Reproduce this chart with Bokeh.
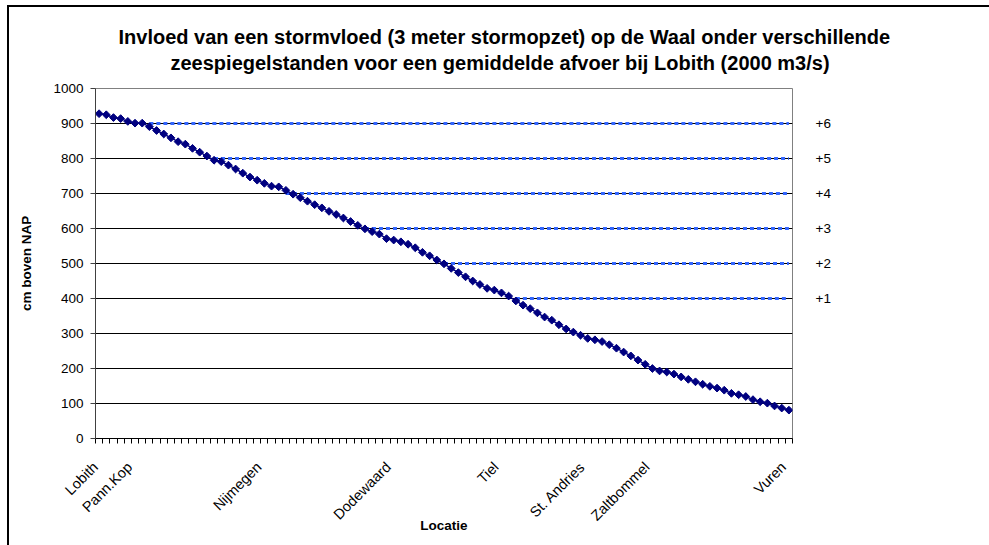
import numpy as np
from bokeh.plotting import figure
from bokeh.models import FixedTicker, LinearAxis, Title, Range1d
from bokeh.embed import file_html
from bokeh.resources import INLINE

# ---- data ----
title_lines = ["Invloed van een stormvloed (3 meter stormopzet) op de Waal onder verschillende",
               "zeespiegelstanden voor een gemiddelde afvoer bij Lobith (2000 m3/s)"]
y_title = "cm boven NAP"
x_title = "Locatie"

waterstand = [928, 925, 917, 914, 906, 901, 901, 891, 880, 870,
              859, 848, 841, 829, 818, 807, 795, 791, 781, 770,
              758, 747, 738, 729, 721, 719, 709, 698, 688, 678,
              668, 659, 649, 640, 630, 620, 609, 599, 591, 584,
              571, 567, 562, 555, 545, 532, 522, 510, 499, 486,
              474, 462, 450, 440, 429, 424, 416, 407, 393, 381,
              371, 359, 347, 338, 325, 313, 304, 295, 286, 282,
              277, 268, 258, 247, 236, 224, 212, 200, 193, 190,
              184, 176, 169, 162, 155, 149, 144, 138, 129, 125,
              120, 111, 105, 101, 93, 87, 81]
locatie_idx = [0, 5, 23, 41, 56, 68, 77, 96]
locatie_names = ["Lobith", "Pann.Kop", "Nijmegen", "Dodewaard", "Tiel",
                 "St. Andries", "Zaltbommel", "Vuren"]
zeespiegel_levels = [400, 500, 600, 700, 800, 900]
zeespiegel_names = ["+1", "+2", "+3", "+4", "+5", "+6"]
zeespiegel_start = [58, 48, 37, 26, 16, 7]
y_ticks = [0, 100, 200, 300, 400, 500, 600, 700, 800, 900, 1000]

N = len(waterstand)
x = list(range(N))

FONT = "Liberation Sans"
FW, FH = 697, 350
BL, BT = 86, 81
BR, BB = 197, 107

p = figure(frame_width=FW, frame_height=FH,
           min_border_left=BL, min_border_right=BR,
           min_border_top=BT, min_border_bottom=BB,
           x_range=Range1d(-0.5, N - 0.5), y_range=Range1d(0, 1000),
           output_backend="svg", toolbar_location=None,
           background_fill_color="white", border_fill_color="white")
p.styles = {"margin-left": "7px", "margin-top": "5px",
            "border-top": "2px solid #000", "border-left": "2px solid #000"}

p.outline_line_color = "#808080"
p.outline_line_width = 1
p.xgrid.visible = False
p.ygrid.grid_line_color = "black"
p.ygrid.grid_line_width = 1

# titles (added closest-to-frame first)
p.add_layout(Title(text=title_lines[1], text_font=FONT, text_font_size="20px",
                   text_font_style="bold", text_color="black", align="left",
                   offset=75, standoff=30), "above")
p.add_layout(Title(text=title_lines[0], text_font=FONT, text_font_size="20px",
                   text_font_style="bold", text_color="black", align="left",
                   offset=23, standoff=-26), "above")

# y axis
ya = p.yaxis[0]
ya.ticker = FixedTicker(ticks=y_ticks)
ya.major_label_text_font = FONT
ya.major_label_text_font_size = "13.5px"
ya.major_label_text_color = "black"
ya.major_tick_out = 5
ya.major_tick_in = 0
ya.minor_tick_line_color = None
ya.axis_line_color = "#404040"
ya.major_tick_line_color = "#404040"
ya.major_label_standoff = 7
ya.axis_label = y_title
ya.axis_label_text_font = FONT
ya.axis_label_text_font_size = "13.5px"
ya.axis_label_text_font_style = "bold"
ya.axis_label_text_color = "black"
ya.axis_label_standoff = 16

# x axis: labels anchored slightly left of the category centre
xa = p.xaxis[0]
boundaries = [i - 0.5 for i in range(N + 1)]
label_pos = [max(i - 0.75, -0.5) for i in locatie_idx]
xa.ticker = FixedTicker(ticks=label_pos, minor_ticks=boundaries)
xa.major_label_overrides = {t: n for t, n in zip(label_pos, locatie_names)}
xa.major_label_orientation = np.pi / 4
xa.major_label_text_font = FONT
xa.major_label_text_font_size = "14.5px"
xa.major_label_text_color = "black"
xa.major_tick_out = 0
xa.major_tick_in = 0
xa.major_tick_line_color = None
xa.minor_tick_out = 5
xa.minor_tick_in = 0
xa.minor_tick_line_color = "black"
xa.axis_line_color = "black"
xa.major_label_standoff = 21
xa.axis_label = x_title
xa.axis_label_text_font = FONT
xa.axis_label_text_font_size = "13.5px"
xa.axis_label_text_font_style = "bold"
xa.axis_label_text_color = "black"
xa.axis_label_standoff = -14

# right labels
ra = LinearAxis(ticker=FixedTicker(ticks=zeespiegel_levels),
                major_label_overrides={v: n for v, n in zip(zeespiegel_levels, zeespiegel_names)},
                axis_line_color=None, major_tick_line_color=None,
                minor_tick_line_color=None, major_tick_out=0, major_tick_in=0,
                major_label_standoff=23,
                major_label_text_font=FONT, major_label_text_font_size="13.5px",
                major_label_text_color="black")
p.add_layout(ra, "right")

# level lines
for lev, st in zip(zeespiegel_levels, zeespiegel_start):
    xs = x[st:]
    ys = [lev for _ in xs]
    p.line(xs, ys, line_color="#3366ff", line_width=3, line_dash="4 3")

# main series
p.line(x, waterstand, line_color="#000080", line_width=1.5)
p.scatter(x, waterstand, marker="square", angle=np.pi / 4, size=5.5,
          fill_color="#000080", line_color="#000080")

open("out.html", "w").write(file_html(p, INLINE))
